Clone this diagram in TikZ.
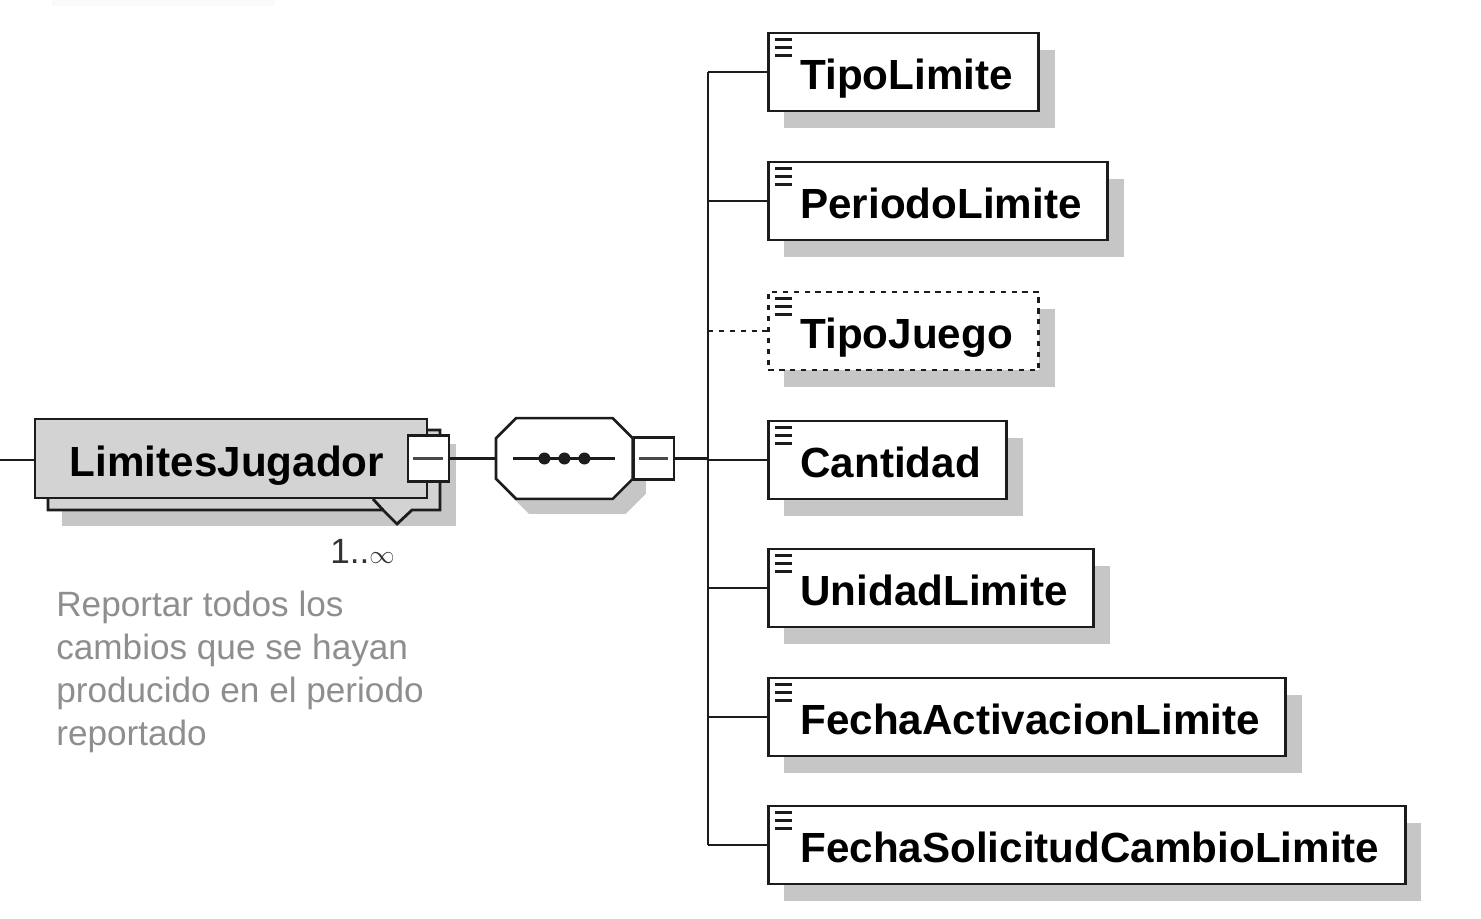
\documentclass[tikz,border=0pt]{standalone}
\usepackage{fontspec}
\setmainfont{Liberation Sans}
\usepackage{tikz}
\usetikzlibrary{shadows,calc,positioning}
\definecolor{sombra}{HTML}{C6C6C6}
\definecolor{grisnodo}{HTML}{D3D3D3}
\definecolor{grisnota}{HTML}{8E8E8E}
\definecolor{trazo}{HTML}{1C1C1C}
\newcommand{\elemtxt}[1]{\hspace*{6.4mm}#1\hspace*{5.2mm}}
\tikzset{
  conector/.style={draw=trazo,line width=1.4pt},
  punteado/.style={dash pattern=on 3pt off 3.2pt},
  elemento/.style={draw=trazo,line width=1.6pt,fill=white,anchor=west,
    minimum height=15.6mm,inner xsep=0pt,inner ysep=0pt,
    text height=24pt,text depth=4.6pt,
    font=\bfseries\fontsize{24}{28}\selectfont,
    drop shadow={shadow xshift=3.2mm,shadow yshift=-3.4mm,fill=sombra,opacity=1},
    path picture={\draw[line width=1.3pt,solid,trazo]
      ([xshift=1.3mm,yshift=-1.3mm]path picture bounding box.north west) -- ++(3.4mm,0)
      ([xshift=1.3mm,yshift=-2.9mm]path picture bounding box.north west) -- ++(3.4mm,0)
      ([xshift=1.3mm,yshift=-4.5mm]path picture bounding box.north west) -- ++(3.4mm,0);}},
  menos/.style={draw=trazo,line width=1.3pt,fill=white,inner sep=0pt,
    minimum width=8.2mm,minimum height=9.2mm,
    path picture={\draw[line width=1.6pt,trazo!80]
      ([xshift=1.1mm]path picture bounding box.west) -- ([xshift=-1.1mm]path picture bounding box.east);}},
}
\begin{document}
\begin{tikzpicture}[x=0.2mm,y=-0.2mm]
\useasboundingbox (0,0) rectangle (1481,919);
\fill[black!2] (52,0) rectangle (275,6);

% elemento raiz con copia detras (1..oo)
\fill[sombra] (62,444) rectangle (456,526);
\filldraw[fill=grisnodo,draw=trazo,line width=1.6pt] (48,430) -| (440,510) -- (412,510) -- (397,524) -- (383,510) -- (48,510) -- cycle;
\draw[trazo,line width=1.6pt] (383,510) -- (373,499);
\node[draw=trazo,line width=1.6pt,fill=grisnodo,minimum width=78.4mm,minimum height=15.8mm,inner sep=0pt,
  text height=25pt,text depth=4pt,font=\bfseries\fontsize{24}{28}\selectfont] (limites) at (231,458.5) {LimitesJugador\hspace*{1.6mm}};
\node[menos] (limminus) at (limites.east) {};
\node[font=\fontsize{20}{24}\selectfont,text=trazo!90,anchor=base west,inner sep=0pt] (cardinal) at (330,563) {1..{\fontsize{15}{15}\selectfont$\infty$}};
\node[font=\fontsize{20}{24.5}\selectfont,text=grisnota,anchor=north west,align=left,inner sep=0pt] (nota) at (56,591)
  {Reportar todos los\\cambios que se hayan\\producido en el periodo\\reportado};

% compositor secuencia
\node[minimum width=27.2mm,minimum height=16mm,inner sep=0pt,right=9.2mm of limminus] (seq) {};
\filldraw[fill=white,draw=trazo,line width=1.5pt,
  preaction={fill=sombra,transform canvas={shift={(2.6mm,-3mm)}}}]
  ($(seq.north west)+(0,20)$) -- ($(seq.north west)+(20,0)$) -- ($(seq.north east)+(-20,0)$)
  -- ($(seq.north east)+(0,20)$) -- ($(seq.south east)+(0,-20)$) -- ($(seq.south east)+(-20,0)$)
  -- ($(seq.south west)+(20,0)$) -- ($(seq.south west)+(0,-20)$) -- cycle;
\node[menos,minimum width=8mm,minimum height=8.4mm,right=0pt of seq] (seqminus) {};
\draw[trazo,line width=1.2pt] ([xshift=-10.2mm]seq.center) -- ([xshift=10.2mm]seq.center);
\fill[trazo] ([xshift=-4mm]seq.center) circle (1.2mm) (seq.center) circle (1.2mm) ([xshift=4mm]seq.center) circle (1.2mm);

% hijos
\node[elemento] (tipolimite) at (767,72) {\elemtxt{TipoLimite}};
\node[elemento] (periodolimite) at (767,201) {\elemtxt{PeriodoLimite}};
\node[elemento,punteado] (tipojuego) at (767,331) {\elemtxt{TipoJuego}};
\node[elemento] (cantidad) at (767,460) {\elemtxt{Cantidad}};
\node[elemento] (unidadlimite) at (767,588) {\elemtxt{UnidadLimite}};
\node[elemento] (fechaactivacion) at (767,717) {\elemtxt{FechaActivacionLimite}};
\node[elemento] (fechasolicitud) at (767,845) {\elemtxt{FechaSolicitudCambioLimite}};

% conectores
\coordinate (entrada) at (0,460);
\coordinate (bus) at (708,460);
\draw[conector] (entrada) -- (entrada -| limites.west);
\draw[conector] (limminus.east) -- (limminus.east -| seq.west);
\draw[conector] (seqminus.east) -- (seqminus.east -| bus);
\draw[conector] (tipolimite.west -| bus) -- (fechasolicitud.west -| bus);
\draw[conector] (tipolimite.west -| bus) -- (tipolimite.west);
\draw[conector] (periodolimite.west -| bus) -- (periodolimite.west);
\draw[conector,punteado] (tipojuego.west -| bus) -- (tipojuego.west);
\draw[conector] (cantidad.west -| bus) -- (cantidad.west);
\draw[conector] (unidadlimite.west -| bus) -- (unidadlimite.west);
\draw[conector] (fechaactivacion.west -| bus) -- (fechaactivacion.west);
\draw[conector] (fechasolicitud.west -| bus) -- (fechasolicitud.west);
\end{tikzpicture}
\end{document}
